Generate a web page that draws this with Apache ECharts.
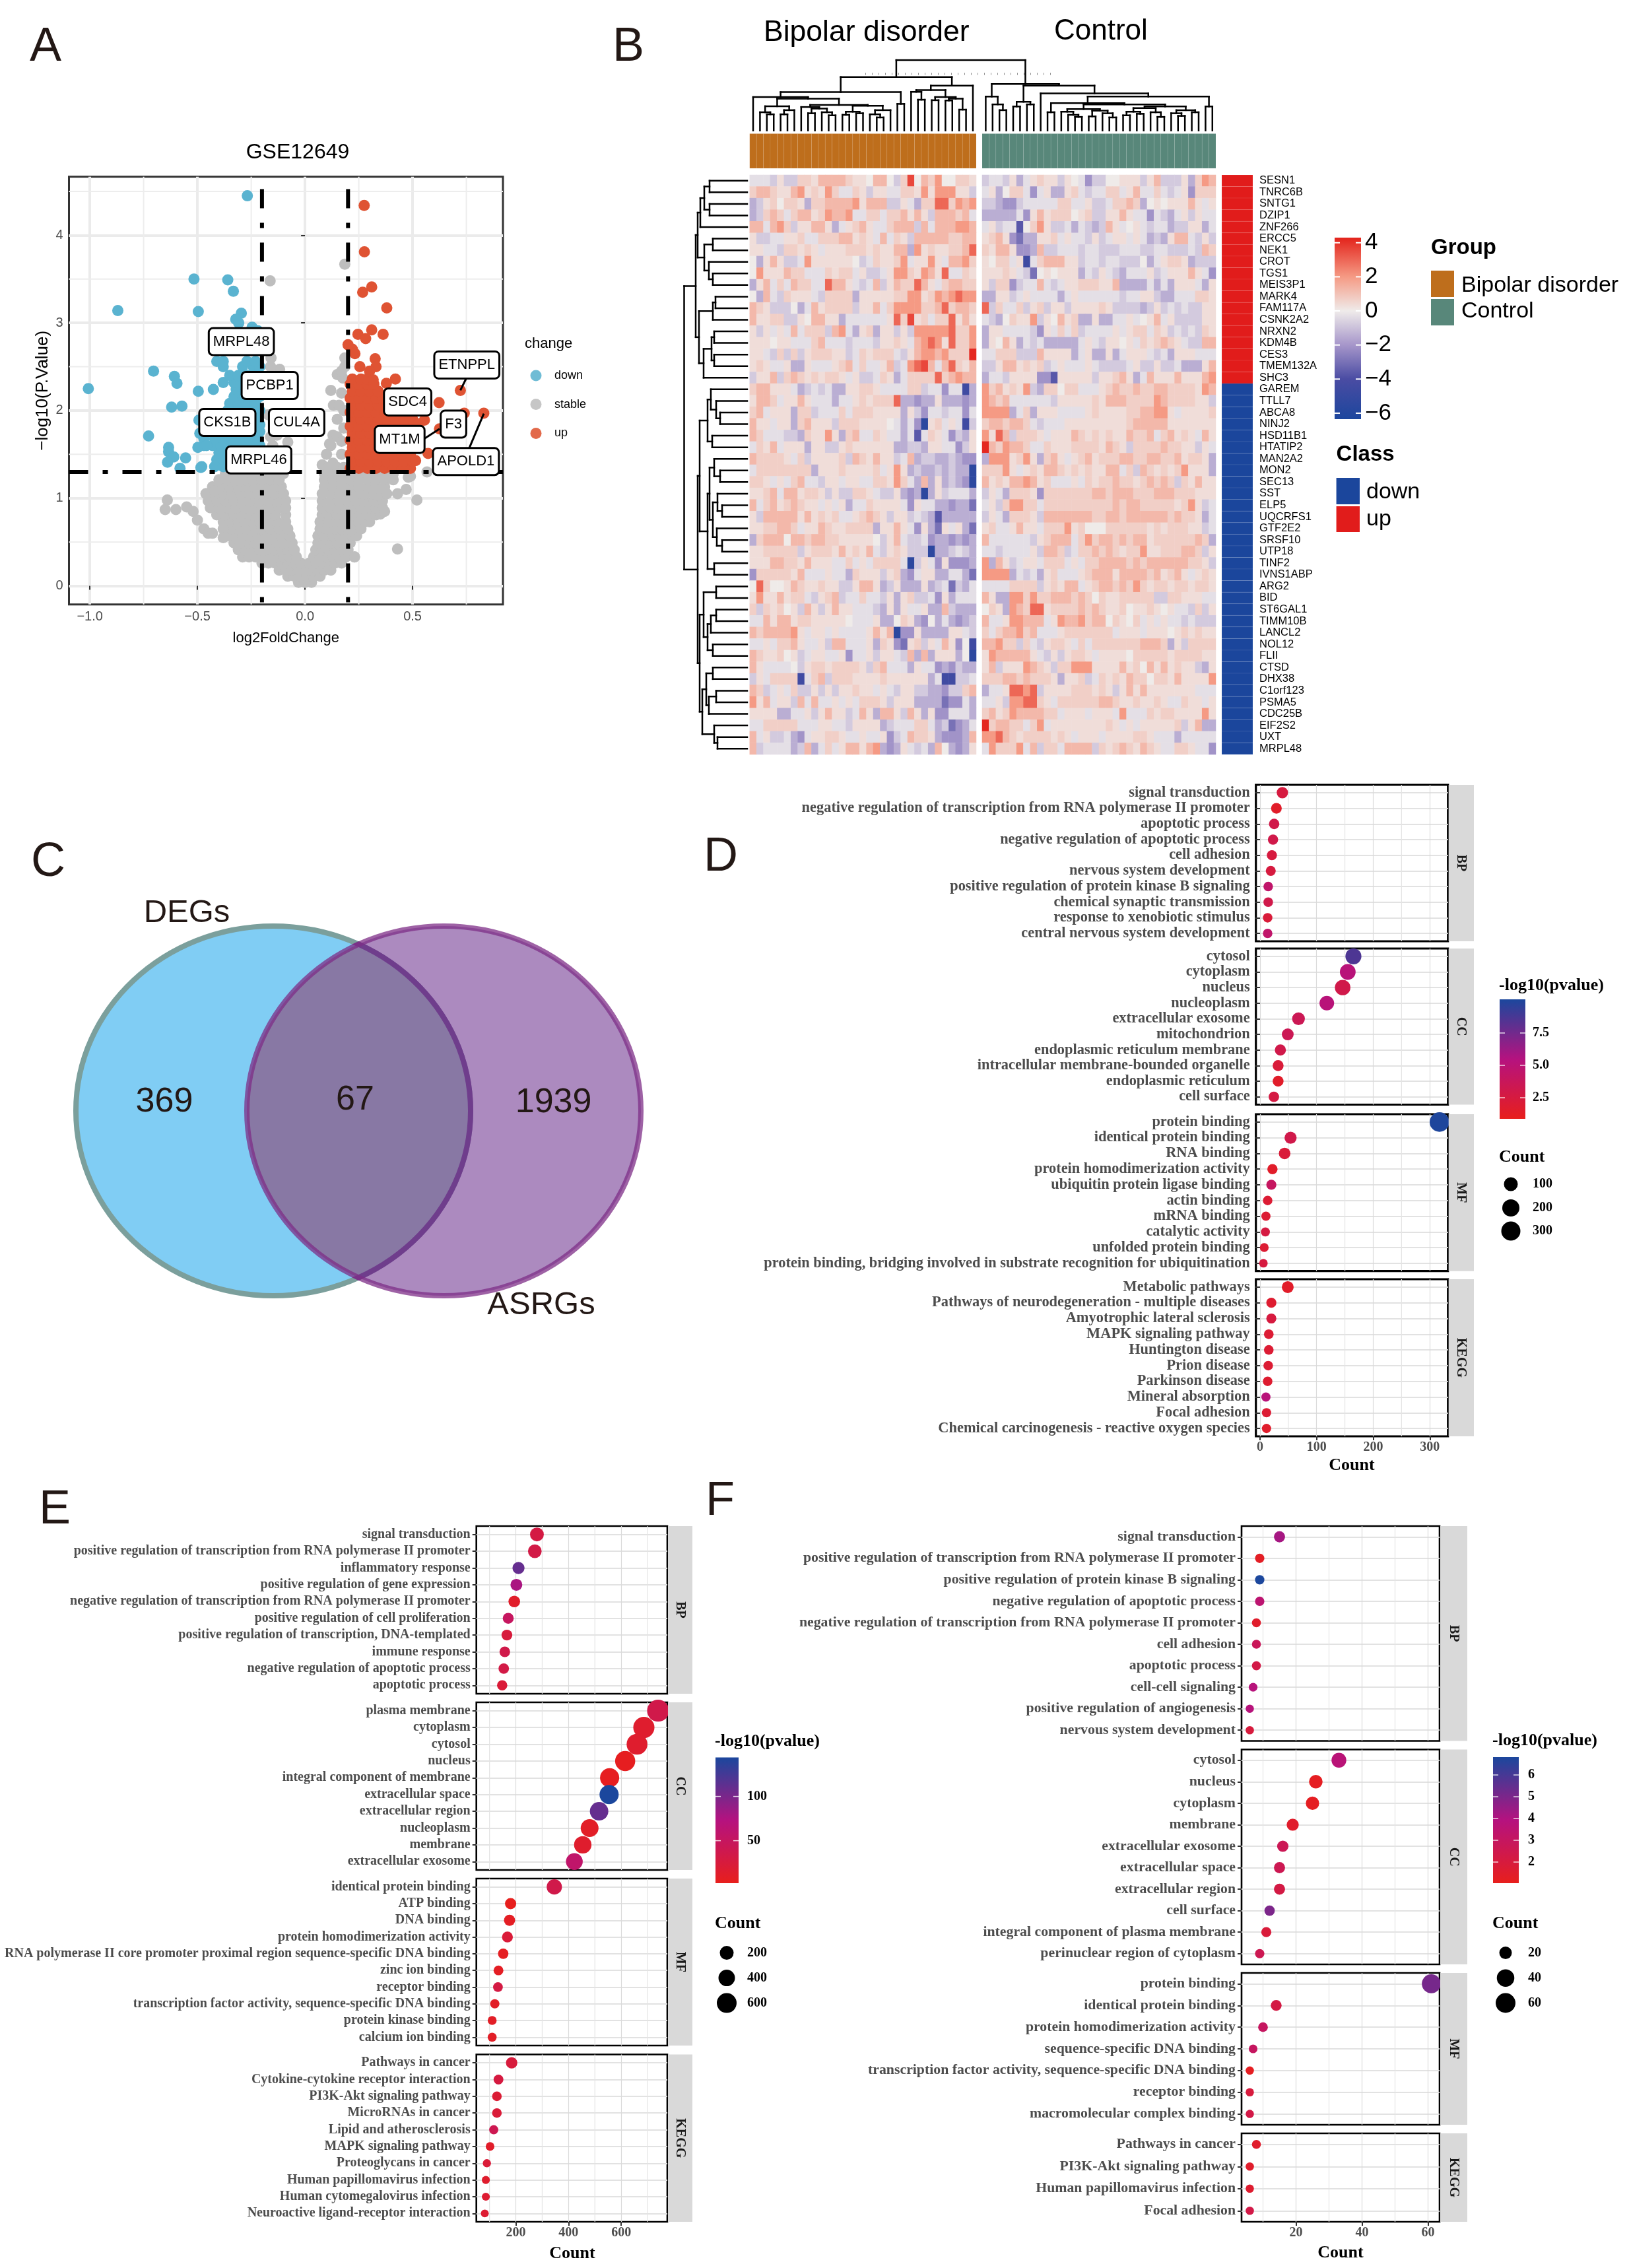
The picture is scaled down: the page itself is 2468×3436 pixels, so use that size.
<!DOCTYPE html>
<html><head><meta charset="utf-8">
<style>html,body{margin:0;padding:0;background:#fff}#c{width:2468px;height:3436px}</style>
<script src="https://cdn.jsdelivr.net/npm/echarts@6/dist/echarts.min.js"></script>
</head><body><div id="c"></div>
<script>
// ---------- DATA: volcano ----------
const volcanoTitle = 'GSE12649';
const greyRows = [
[.04,[-.03,0,.03]],[.11,[-.08,-.05,-.02,.01,.04,.07]],[.18,[-.12,-.09,-.06,-.03,0,.03,.06,.09,.12]],
[.26,[-.2,-.17,-.14,-.11,-.08,-.05,-.02,.02,.05,.08,.11,.14,.17]],
[.33,[-.29,-.26,-.23,-.19,-.16,-.13,-.1,-.07,-.04,.04,.07,.1,.13,.16,.19,.23]],
[.41,[-.31,-.28,-.24,-.21,-.18,-.14,-.11,-.08,-.05,.05,.08,.11,.14,.17,.2]],
[.49,[-.33,-.3,-.26,-.23,-.19,-.16,-.13,-.09,-.06,.06,.09,.12,.15,.18,.21]],
[.57,[-.36,-.32,-.29,-.25,-.22,-.18,-.15,-.11,-.07,.06,.09,.13,.16,.19,.22,.24]],
[.65,[-.37,-.34,-.3,-.27,-.23,-.2,-.16,-.12,-.08,.07,.1,.14,.17,.2,.23,.26]],
[.73,[-.38,-.35,-.31,-.28,-.24,-.21,-.17,-.13,-.09,.07,.11,.14,.18,.21,.25,.28,.3]],
[.81,[-.41,-.37,-.33,-.3,-.26,-.22,-.18,-.14,-.09,.08,.11,.15,.19,.22,.26,.29,.33]],
[.89,[-.44,-.4,-.36,-.32,-.28,-.24,-.2,-.16,-.12,-.09,.08,.12,.15,.19,.23,.26,.3,.33,.36]],
[.97,[-.45,-.41,-.37,-.33,-.29,-.25,-.21,-.17,-.13,-.09,.08,.12,.16,.2,.24,.28,.32,.36]],
[1.05,[-.46,-.42,-.38,-.34,-.3,-.26,-.22,-.18,-.14,-.1,.08,.12,.16,.2,.24,.28,.32,.36,.38]],
[1.13,[-.43,-.39,-.35,-.31,-.27,-.23,-.19,-.15,-.11,.09,.13,.17,.21,.25,.29,.33,.37]],
[1.21,[-.4,-.36,-.32,-.28,-.24,-.2,-.16,-.12,.09,.13,.17,.21,.25,.29,.33,.37,.41]],
[1.28,[-.37,-.33,-.29,-.25,-.21,-.17,-.13,-.1,.09,.13,.17,.21,.25,.29,.33,.37,.41]]];
const greyExtra = [[-.65,.87],[-.64,.98],[-.6,.87],[-.55,.9],[-.52,.85],[-.5,.75],[-.47,.65],[-.45,.6],[-.43,.6],[-.38,.65],[-.38,.55],[-.46,1.05],[-.42,1.08],
[.43,.42],[.52,.98],[.43,1.05],[.47,1.1],[.35,.82],[.37,.85],[.49,1.25],[.567,1.3],[.48,1.24],[.23,.33],
[.185,3.67],[-.162,3.48],[-.158,2.6],[-.118,2.47],[-.16,2.5],[.185,2.6],[.185,2.5],[.15,2.41],[.176,2.37],[.17,2.45],[.12,2.23],[.132,2.06],[.158,2.06],[.17,2.2],[.18,2],[.15,1.9],
[-.08,1.64],[-.1,1.5],[-.13,1.72],[-.15,1.6],[-.12,1.5],[-.19,1.4],[-.14,1.38],[-.17,1.95],[-.16,1.7],
[.114,1.62],[.13,1.72],[.15,1.7],[.17,1.65],[.12,1.6],[.1,1.5],[.13,1.4],[.17,1.5],[.08,1.38],[.11,1.35],[.15,1.35],[.18,1.35],[.18,1.8]];
const blueRows = [
[1.36,[-.48,-.42,-.38,-.35,-.31,-.27,-.23]],[1.44,[-.41,-.38,-.34,-.3,-.26,-.22]],[1.52,[-.4,-.36,-.33,-.29,-.25,-.21]],
[1.6,[-.47,-.43,-.39,-.35,-.31,-.27,-.23,-.21]],[1.68,[-.47,-.42,-.38,-.34,-.3,-.26,-.22]],[1.76,[-.44,-.4,-.36,-.32,-.28,-.24,-.21]],
[1.84,[-.36,-.32,-.28,-.24,-.21]],[1.92,[-.34,-.3,-.26,-.22]],[2,[-.36,-.33,-.29,-.25,-.21]],[2.08,[-.35,-.31,-.27,-.23]],
[2.16,[-.33,-.29,-.25,-.21]],[2.24,[-.32,-.28,-.24]],[2.32,[-.38,-.33,-.3,-.26,-.22]],[2.4,[-.35,-.31,-.27]],
[2.5,[-.38,-.29,-.24,-.21]],[2.56,[-.41,-.38,-.27,-.23]],[2.7,[-.4,-.31,-.25,-.21]],[2.85,[-.32,-.27,-.23]]];
const blueExtra = [[-.268,4.45],[-.516,3.5],[-.359,3.49],[-.333,3.36],[-.87,3.14],[-.496,3.13],[-.296,3.11],[-.322,3.04],[-.308,3],[-.246,2.95],[-.22,2.91],
[-.704,2.45],[-.607,2.39],[-.595,2.31],[-1.007,2.25],[-.426,2.24],[-.496,2.22],[-.62,2.04],[-.572,2.05],[-.727,1.71],[-.634,1.58],[-.634,1.53],[-.61,1.47],[-.639,1.41],[-.555,1.46],[-.581,1.34],[-.484,1.35],[-.493,1.89],[-.489,1.74],[-.498,1.58],[-.458,1.6]];
const redRows = [
[1.34,[.21,.25,.29,.33,.37,.41,.45,.49]],[1.42,[.22,.26,.3,.34,.38,.42,.46,.5]],[1.5,[.21,.25,.29,.33,.37,.41,.45,.49]],
[1.58,[.22,.26,.3,.34,.38,.42,.46,.49]],[1.66,[.21,.25,.29,.33,.37,.41,.45]],[1.74,[.22,.26,.3,.34,.38]],
[1.82,[.21,.25,.29,.33,.37,.41,.45,.49,.52]],[1.9,[.22,.26,.3,.34,.38,.42,.46,.5]],[1.98,[.21,.25,.29,.33,.37,.41,.45]],
[2.06,[.22,.26,.3,.34,.38]],[2.14,[.21,.25,.29,.33,.36]],[2.22,[.22,.26,.3,.34]],[2.3,[.21,.25,.29,.32]],[2.36,[.22,.26,.29]]];
const redExtra = [[.275,4.34],[.276,3.81],[.31,3.41],[.268,3.35],[.38,3.17],[.31,2.92],[.246,2.87],[.282,2.82],[.363,2.87],[.2,2.75],[.22,2.7],[.232,2.65],[.326,2.59],[.33,2.5],[.255,2.5],[.3,2.45],[.317,2.35],[.42,2.36],[.378,2.31],[.722,2.23],[.623,2.09],[.831,1.97],[.74,1.97],[.555,1.89],[.625,1.79],[.528,1.85],[.572,1.51],[.514,1.43]];
const geneBoxes = [['MRPL48',-.296,2.786],['PCBP1',-.164,2.286],['CKS1B',-.361,1.864],['CUL4A',-.039,1.864],['MRPL46',-.215,1.437],['ETNPPL',.752,2.52],['SDC4',.477,2.098],['F3',.69,1.845],['MT1M',.44,1.671],['APOLD1',.748,1.418]];
const geneLinks = [[.752,2.38,.722,2.23],[.555,1.68,.625,1.79],[.762,1.564,.831,1.965]];
const volcanoCuts = {x:[-.2,.2], y:[1.3]};
const volcanoLegend = ['down','stable','up'];

// ---------- DATA: heatmap ----------
const rowGenes = ['SESN1','TNRC6B','SNTG1','DZIP1','ZNF266','ERCC5','NEK1','CROT','TGS1','MEIS3P1','MARK4','FAM117A','CSNK2A2','NRXN2','KDM4B','CES3','TMEM132A','SHC3','GAREM','TTLL7','ABCA8','NINJ2','HSD11B1','HTATIP2','MAN2A2','MON2','SEC13','SST','ELP5','UQCRFS1','GTF2E2','SRSF10','UTP18','TINF2','IVNS1ABP','ARG2','BID','ST6GAL1','TIMM10B','LANCL2','NOL12','FLII','CTSD','DHX38','C1orf123','PSMA5','CDC25B','EIF2S2','UXT','MRPL48'];
const upCount = 18;
const heatCode = {'0':0,'1':.35,'2':.7,'3':1.25,'4':2,'5':3,'6':3.6,'7':4.2,a:-.28,b:-.78,c:-1.45,d:-2.1,e:-3,f:-3.7,g:-4.5,h:-5.5};
const heatRows = [
"aaab1bb22133332110330b26032400221 baab1ca1211b10adbb00111b13bbb1c243",
"2332113412142aa21b11aa2214144411b a1c022ada1cc12abaa22a13aa2aba1d222",
"cb120221c22333341333bb1ac22552434 bbcddbaaaaa22aa1bba2232c01011131a1",
"cb232a233124334aa22a223131b33323a cccccad131222012bb1131aadabca1b1aa",
"33a342b11331ca1231aa2333b3a333443 a1baaf0241bbacabcb31a01abaacbb11ca",
"1bbaa112aa22233121a3a21b333332233 1231decc112a1aab1ba11a1acbc133ab1b",
"11aab22121a111222121133c412112235 21331ddc3bbaaabaabbbaaabbaabbbab32",
"0c131bba41111110ba21124a1141a3342 1022a1ga233311baabaabbb0ca1221cbbb",
"04111322aaa2122a1bba144214315aa21 11121abe010111cab1abcaaa1ba11131ad",
"c13a2a322aa5331aba3b1322531a23322 1b22dbaa3aba11222113ccccacac111ac1",
"0c3ab2111ab2222c11111224412434544 cc11ba1aaaaca1aaaaaabaa11bccaaa221",
"321bbb0ca312222b113a2444422352332 5b2aa2b12b11b111121bbbbcb1bababb11",
"31122bb103311caaaaaa152612a225131 abc02114b10312cc1ccaa1a013a1bbbb11",
"1b1a1a3a222b34ac12c11b1b444445224 c11aaaabd1a2a2baaaa1a122a21babab21",
"111011aaa23aaabaaab1121a345415224 c1031cabaccccca1ab1101a212321abb33",
"11ab2b2b122211ba21222ab1344342227 aa222bbb31111ca1cc1ca111abac111aaa",
"121aa1cc1aaa123a2aa13ba4563a35213 bb1331212ba1aaa1abbbba1bb1bbaccc13",
"b113b232121221a1bba21ca2222523433 caab1111ddf11111b11231ca3111311134",
"233111acbabacc11221aaaa22baadaagc 4231214bc22022aaa12322322332222143",
"1332a1131aaacaa1212225ccdcc1cccdc 4323aaaaaab1111121333222243222211b",
"23a111c22baaa2a2221111c1bdaabaada 4444ca2c111aaaa1211112233441a11112",
"311a11c23111b22211110acadh12a1agb 2332332abaaa1111111112333331111111",
"32aaabbc21141c23aa21aacafa21adbc1 4153b2221a111321212113223a23121a31",
"a213a111c11bb12111111ccbbc11aadb1 7324332aa211122221321b222232211b1a",
"322221a2b11112b321311ba3cbbccbcdd c4441241c231a12312223322332231221c",
"a22222222c111211112a141cbccbcbcch 22241a12133212121133a2b3212124111c",
"221a1a23aab11a11aa22142ac3c1cbcdh 3121334312aaa1a2122322123232b21311",
"1123a331221b1bb221abb1cdchc1baaac b1ac2221d2222222332333222333222111",
"3a23123211a1a1caa21111ad1aaccdcce a1b24422a22222222223233222221241ba",
"1b33333131212aa12321b11babcfccccc b1ac2221b33333332233233333323221ca",
"1122332a1132112222c1131ad1ce1a1ce 12aa1311a22241200022222212122211ba",
"c233303323322111110b13abbadccdcdc 3aaaaaab12333a2423323233122222232c",
"1122222b1222131213ab121bbbhccbabc aabaaaa1b332ba223232122411222332b1",
"111332213111aa2a1a2222ahb1ad1dddc 4c31ba11a222a1a223333232333333221b",
"d2222213aaa1aac2111b12cda11ccaace 4444cabac12aaa1233313333231231a121",
"0520013211211bb1331cb1ccc1cbaebca aaaa2222b12133a1233232421221221221",
"14113122ab123baa2aab1c12bbad1caaa 31cc442422333232021122222bb22111aa",
"2b21201b31b1311aaabc1c1aa1cc3bccc 021c432551222232321120112101aab2b1",
"aa3133122111110aaa1cc021cd0cacdcb 3aa144333a1433423302102a1a1aababbb",
"32333341a11a1aaaa1313hdd1cccc11ab 2a233423aaa12222222a111a1110121211",
"aa1a2231aa1b33aaa1c21de12b1a31d0g 33422b2ab1221a2a22222223332c1b2222",
"3211201ba11aa1daa1b11ab3c3c111c0h 14333331ab1b1221a11110222221222211",
"31aaaa0b122122221b23aaac1aadcdbcc 13b1114321b22444111131203131211bc1",
"b1a2222ga23b22211112111111caggbba 22233232221c112ba21213220221311114",
"32ba1a2bb1b1b11211a1ab11bbccdbb23 caa15545b1111222121b13131111111aaa",
"413a11b3a3aa1a1a2221b111cccceddac aa1b445521a2222223321121121aa211a1",
"1111ccaa1b1311ba31c331b31c1ddaaac 23124333322a111a111a4aaa2122111141",
"aa22222aaa11aab1111cbaaa22acbedca 723322a24a1111111121a1a111112b13cc",
"3a1bbacda11221aa1aa1dba3221cdddc3 4453212222121a111a1111221aaacaaaaa",
"3baaaacb3ca2a133134cdc1abac30cdc1 a42224a3b22a3333b212321321aa221aad"
];
const colGroups = ['Bipolar disorder','Control'];
const colCounts = [33,34];
// dendrograms: node = [height, left, right], leaf = 0
const colTreeLeft = [205,
 [147,[128,0,[122,[93,[70,0,[62,0,0]],[78,[62,0,0],0]],[98,[90,0,[84,[66,0,0],[70,0,[58,0,0]]]],[95,[72,[60,0,0],[66,0,0]],[78,[62,0,[50,0,0]],0]]]]],[102,0,0]],
 [172,[155,[148,0,[118,0,0]],[128,[116,0,0],[122,[115,0,0],[80,0,0]]]],0]];
const colTreeRight = [178,[130,0,[100,0,[78,0,0]]],
 [172,[110,[92,0,0],[100,0,0]],[142,0,[130,[105,[70,0,0],[100,[82,[72,0,[60,0,[52,0,0]]],[76,[54,0,0],[66,0,[50,0,0]]]],[92,[86,[72,[58,0,0],[64,0,0]],[70,0,[52,0,0]]],[78,[66,0,[56,0,0]],[70,0,0]]]]],[92,0,0]]]]];
const colTree = [270,colTreeLeft,colTreeRight];
const rowTree = [95.5,
 [78,[75,[71,[65,[57,0,0],[57,0,0]],0],[65,[52,0,0],[58,0,[52,0,0]]]],[73,[52,[48,0,0],0],[66,[54,[50,0,0],[50,0,0]],0]]],
 [75,[72,[60,[55,0,[47,0,[41,0,0]]],[53,0,0]],[60,[57,[50,0,[41,0,0]],[52,[45,0,[38,0,0]],[46,0,[38,0,0]]]],[50,0,0]]],
  [72,[66,[47,0,0],[60,[55,[47,0,0],0],[52,0,0]]],[68,[62,[52,0,0],[58,[47,0,0],0]],[50,0,[45,0,0]]]]]];
const heatTicks = [4,2,0,-2,-4,-6];

// ---------- DATA: venn ----------
const vennNames = ['DEGs','ASRGs'];
const vennCounts = [369,67,1939];
const vennEllipses = [[414,423,299,280],[672.5,423,298.5,280]];

// ---------- DATA: GO panels ----------
const dBP = ['signal transduction','negative regulation of transcription from RNA polymerase II promoter','apoptotic process','negative regulation of apoptotic process','cell adhesion','nervous system development','positive regulation of protein kinase B signaling','chemical synaptic transmission','response to xenobiotic stimulus','central nervous system development'];
const dBPc = [39.5,29,25,23,21,19,14.5,14.5,13.5,13.5], dBPp = [2.5,1.5,3,3,2.5,2.5,4.5,3,2.2,4.5];
const dCC = ['cytosol','cytoplasm','nucleus','nucleoplasm','extracellular exosome','mitochondrion','endoplasmic reticulum membrane','intracellular membrane-bounded organelle','endoplasmic reticulum','cell surface'];
const dCCc = [165,155,146,118,68,49,36,32,32,24.5], dCCp = [8.6,5.2,3,5.2,3.5,3.5,3,2.2,1.5,2.7];
const dMF = ['protein binding','identical protein binding','RNA binding','protein homodimerization activity','ubiquitin protein ligase binding','actin binding','mRNA binding','catalytic activity','unfolded protein binding','protein binding, bridging involved in substrate recognition for ubiquitination'];
const dMFc = [317,54,43.5,22,20,13.5,10.5,9.5,7.5,6], dMFp = [10,3,2.2,1.5,4,2,2,2.6,2,2.5];
const dKE = ['Metabolic pathways','Pathways of neurodegeneration - multiple diseases','Amyotrophic lateral sclerosis','MAPK signaling pathway','Huntington disease','Prion disease','Parkinson disease','Mineral absorption','Focal adhesion','Chemical carcinogenesis - reactive oxygen species'];
const dKEc = [49,20,20,15.5,15.5,14.5,13.5,10.5,11.5,11.5], dKEp = [1.5,1.8,2.5,2,2,2,1.8,5.2,2,1.6];

const eBP = ['signal transduction','positive regulation of transcription from RNA polymerase II promoter','inflammatory response','positive regulation of gene expression','negative regulation of transcription from RNA polymerase II promoter','positive regulation of cell proliferation','positive regulation of transcription, DNA-templated','immune response','negative regulation of apoptotic process','apoptotic process'];
const eBPc = [280,272,210,202,194,171,166,158,154,148], eBPp = [30,32,110,78,12,50,25,35,32,22];
const eCC = ['plasma membrane','cytoplasm','cytosol','nucleus','integral component of membrane','extracellular space','extracellular region','nucleoplasm','membrane','extracellular exosome'];
const eCCc = [740,686,660,615,556,554,516,480,454,422], eCCp = [35,15,15,5,5,144,110,10,14,58];
const eMF = ['identical protein binding','ATP binding','DNA binding','protein homodimerization activity','RNA polymerase II core promoter proximal region sequence-specific DNA binding','zinc ion binding','receptor binding','transcription factor activity, sequence-specific DNA binding','protein kinase binding','calcium ion binding'];
const eMFc = [346,180,176,168,152,134,132,120,110,110], eMFp = [35,3,8,22,6,8,30,10,10,10];
const eKE = ['Pathways in cancer','Cytokine-cytokine receptor interaction','PI3K-Akt signaling pathway','MicroRNAs in cancer','Lipid and atherosclerosis','MAPK signaling pathway','Proteoglycans in cancer','Human papillomavirus infection','Human cytomegalovirus infection','Neuroactive ligand-receptor interaction'];
const eKEc = [184,134,128,128,116,102,90,86,86,82], eKEp = [25,28,20,22,40,12,22,14,18,18];

const fBP = ['signal transduction','positive regulation of transcription from RNA polymerase II promoter','positive regulation of protein kinase B signaling','negative regulation of apoptotic process','negative regulation of transcription from RNA polymerase II promoter','cell adhesion','apoptotic process','cell-cell signaling','positive regulation of angiogenesis','nervous system development'];
const fBPc = [15,9,9,9,8,8,8,7,6,6], fBPp = [4.2,1.3,6.8,3.5,1.5,2.8,2.3,3.8,3.8,2];
const fCC = ['cytosol','nucleus','cytoplasm','membrane','extracellular exosome','extracellular space','extracellular region','cell surface','integral component of plasma membrane','perinuclear region of cytoplasm'];
const fCCc = [33,26,25,19,16,15,15,12,11,9], fCCp = [3.7,1.2,1.2,1.5,2.7,2.6,2.2,5,1.9,2.6];
const fMF = ['protein binding','identical protein binding','protein homodimerization activity','sequence-specific DNA binding','transcription factor activity, sequence-specific DNA binding','receptor binding','macromolecular complex binding'];
const fMFc = [61,14,10,7,6,6,6], fMFp = [5.1,2.2,3,3,1.2,2,2.3];
const fKE = ['Pathways in cancer','PI3K-Akt signaling pathway','Human papillomavirus infection','Focal adhesion'];
const fKEc = [8,6,6,6], fKEp = [1.5,1.5,1.6,2.3];

// ---------- helpers ----------
const SANS='"Liberation Sans"', SERIF='"Liberation Serif"';
const grid=[],xAxis=[],yAxis=[],series=[],gfx=[];
const hex=c=>[1,3,5].map(i=>parseInt(c.substr(i,2),16));
function ramp(stops,v){
  if(v<=stops[0][0])return stops[0][1];
  for(let i=1;i<stops.length;i++) if(v<=stops[i][0]){
    const t=(v-stops[i-1][0])/(stops[i][0]-stops[i-1][0]),a=hex(stops[i-1][1]),b=hex(stops[i][1]);
    return 'rgb('+a.map((x,k)=>Math.round(x+(b[k]-x)*t)).join(',')+')';
  }
  return stops[stops.length-1][1];
}
function addGrid(l,t,r,b,extra){grid.push(Object.assign({left:l,top:t,width:r-l,height:b-t,containLabel:false,show:false},extra||{}));return grid.length-1;}
const hiddenAxis=(gi,o)=>Object.assign({gridIndex:gi,show:false,axisLine:{show:false},axisTick:{show:false},axisLabel:{show:false},splitLine:{show:false}},o);
function T(x,y,text,font,fill,align,rot){gfx.push({type:'text',x,y,rotation:rot||0,silent:true,z:50,style:{text:String(text),font,fill:fill||'#000',textAlign:align||'left',textVerticalAlign:'middle'}});}
function R(x,y,w,h,fill,z){gfx.push({type:'rect',shape:{x,y,width:w,height:h},silent:true,z:z||40,style:{fill}});}
function segSeries(gi,segs,style,z){
  series.push({type:'custom',coordinateSystem:'cartesian2d',xAxisIndex:gi,yAxisIndex:gi,z:z||2,silent:true,clip:false,animation:false,
    encode:{x:[0,2],y:[1,3]},data:segs,renderItem:(p,api)=>{
      const a=api.coord([api.value(0),api.value(1)]),b=api.coord([api.value(2),api.value(3)]);
      return {type:'line',shape:{x1:a[0],y1:a[1],x2:b[0],y2:b[1]},style:style};
    }});
}
function walk(node,state,segs,leaf,flip){
  if(!node){return {p:leaf(state.i++),h:0};}
  const a=walk(node[1],state,segs,leaf,flip),b=walk(node[2],state,segs,leaf,flip),h=node[0];
  const add=flip?(p1,h1,p2,h2)=>segs.push([h1,p1,h2,p2]):(p1,h1,p2,h2)=>segs.push([p1,h1,p2,h2]);
  add(a.p,a.h,a.p,h);add(b.p,b.h,b.p,h);add(a.p,h,b.p,h);
  return {p:(a.p+b.p)/2,h};
}
function cellSeries(gi,data,colors,stroke){
  series.push({type:'custom',coordinateSystem:'cartesian2d',xAxisIndex:gi,yAxisIndex:gi,silent:true,animation:false,encode:{x:0,y:1},data,
    renderItem:(p,api)=>{const c=api.coord([api.value(0),api.value(1)]),s=api.size([1,1]);
      return {type:'rect',shape:{x:c[0]-s[0]/2,y:c[1]-s[1]/2,width:s[0],height:s[1]},style:{fill:colors[api.value(2)],stroke,lineWidth:1}};}});
}

// ---------- panel letters ----------
[['A',45,72],['B',928,72],['C',47,1307],['D',1066,1299],['E',59,2288],['F',1069,2275]].forEach(a=>T(a[1],a[2],a[0],'72px '+SANS,'#231815'));

// ---------- A: volcano ----------
(function(){
  const xmin=-1.097,xmax=.92,ymin=-.212,ymax=4.667;
  const gi=addGrid(104.5,267.8,762,915.7,{show:true,borderColor:'#333',borderWidth:3});
  const fontTick={color:'#4D4D4D',fontFamily:'Liberation Sans',fontSize:20};
  const tick={show:true,length:6,lineStyle:{color:'#333',width:2}};
  const split={show:true,lineStyle:{color:'#EBEBEB',width:4}};
  xAxis.push({type:'value',gridIndex:gi,min:xmin,max:xmax,name:'log2FoldChange',nameLocation:'middle',nameGap:40,nameTextStyle:{color:'#000',fontSize:22,fontFamily:'Liberation Sans'},
    axisLine:{show:false},axisTick:Object.assign({customValues:[-1,-.5,0,.5]},tick),axisLabel:Object.assign({customValues:[-1,-.5,0,.5],margin:9,formatter:v=>v.toFixed(1).replace('-','−')},fontTick),splitLine:split});
  yAxis.push({type:'value',gridIndex:gi,min:ymin,max:ymax,name:'−log10(P.Value)',nameLocation:'middle',nameGap:27,nameTextStyle:{color:'#000',fontSize:26,fontFamily:'Liberation Sans'},
    axisLine:{show:false},axisTick:Object.assign({customValues:[0,1,2,3,4]},tick),axisLabel:Object.assign({customValues:[0,1,2,3,4],margin:9},fontTick),splitLine:split});
  const minor={stroke:'#EDEDED',lineWidth:2};
  segSeries(gi,[-.75,-.25,.25,.75].map(v=>[v,ymin,v,ymax]).concat([.5,1.5,2.5,3.5,4.5].map(v=>[xmin,v,xmax,v])),minor,1);
  const pts=(rows,extra)=>rows.flatMap(r=>r[1].map(x=>[x,r[0]])).concat(extra);
  [[pts(greyRows,greyExtra),'#BEBEBE'],[pts(blueRows,blueExtra),'#5AB3D0'],[pts(redRows,redExtra),'#DF5333']].forEach(s=>{
    series.push({type:'scatter',xAxisIndex:gi,yAxisIndex:gi,data:s[0],symbolSize:17,z:3,silent:true,itemStyle:{color:s[1],opacity:1},animation:false});
  });
  const dash={type:[29,22,8,22],width:6,color:'#000'};
  volcanoCuts.x.forEach(v=>series.push({type:'line',xAxisIndex:gi,yAxisIndex:gi,z:4,showSymbol:false,silent:true,animation:false,data:[[v,ymax-.14],[v,ymin]],lineStyle:dash}));
  volcanoCuts.y.forEach(v=>series.push({type:'line',xAxisIndex:gi,yAxisIndex:gi,z:4,showSymbol:false,silent:true,animation:false,data:[[xmin,v],[xmax,v]],lineStyle:dash}));
  segSeries(gi,geneLinks,{stroke:'#000',lineWidth:3},5);
  series.push({type:'scatter',xAxisIndex:gi,yAxisIndex:gi,z:6,symbolSize:1,silent:true,animation:false,itemStyle:{color:'transparent',opacity:1},
    data:geneBoxes.map(g=>({name:g[0],value:[g[1],g[2]]})),
    label:{show:true,position:'inside',opacity:1,formatter:'{b}',color:'#000',fontSize:22,fontFamily:'Liberation Sans',backgroundColor:'#fff',borderColor:'#000',borderWidth:3,borderRadius:5,padding:[8,5]}});
  T(451,231,volcanoTitle,'32px '+SANS,'#000','center');
  T(795,521,'change','22px '+SANS);
  [['#6FBCD5',569],['#C6C6C6',612.6],['#E2694A',656.5]].forEach((k,i)=>{
    gfx.push({type:'circle',shape:{cx:812,cy:k[1],r:8.5},silent:true,z:40,style:{fill:k[0]}});
    T(840,k[1],volcanoLegend[i],'18px '+SANS);
  });
})();

// ---------- B: heatmap ----------
(function(){
  const top=265,bot=1143,l1=1135.8,r1=1479,l2=1488,r2=1842;
  const vmin=-6.35,vmax=4.3;
  const stops=[[-6.35,'#1C469D'],[-4,'#4A4CA3'],[-2,'#A696CA'],[0,'#EFEBEA'],[2,'#F59A84'],[4.3,'#E3231B']];
  const vmColors=[];for(let i=0;i<=42;i++)vmColors.push(ramp(stops,vmin+(vmax-vmin)*i/42));
  const parsed=heatRows.map(r=>{const s=r.replace(/ /g,'');return [s.slice(0,colCounts[0]),s.slice(colCounts[0])];});
  const heatIdx=[];
  [[l1,r1,0,colCounts[0]],[l2,r2,1,colCounts[1]]].forEach(g=>{
    const gi=addGrid(g[0],top,g[1],bot);
    const cats=Array.from({length:g[3]},(_,i)=>i);
    xAxis.push(hiddenAxis(gi,{type:'category',data:cats}));
    yAxis.push(hiddenAxis(gi,{type:'category',data:rowGenes,inverse:true}));
    const data=[];
    parsed.forEach((row,ri)=>{for(let c=0;c<g[3];c++){const ch=row[g[2]][c];data.push([c,ri,ch===undefined?0:heatCode[ch]]);}});
    heatIdx.push(series.length);
    series.push({type:'heatmap',xAxisIndex:gi,yAxisIndex:gi,data,silent:true,animation:false,progressive:0});
    // annotation bar
    const ga=addGrid(g[0],202.5,g[1],255);
    xAxis.push(hiddenAxis(ga,{type:'category',data:cats}));
    yAxis.push(hiddenAxis(ga,{type:'category',data:[colGroups[g[2]]]}));
    cellSeries(ga,cats.map(c=>[c,0,0]),[['#BE6E1C'],['#58877A']][g[2]],'rgba(255,255,255,.07)');
  });
  window.__vm={show:false,type:'continuous',min:vmin,max:vmax,seriesIndex:heatIdx,dimension:2,inRange:{color:vmColors},calculable:false};
  // class bar with row labels
  const gc=addGrid(1851,top,1898,bot);
  xAxis.push(hiddenAxis(gc,{type:'category',data:['Class']}));
  yAxis.push({type:'category',gridIndex:gc,data:rowGenes,inverse:true,position:'right',axisLine:{show:false},axisTick:{show:false},splitLine:{show:false},
    axisLabel:{show:true,interval:0,margin:10,color:'#000',fontSize:16.5,fontFamily:'Liberation Sans'}});
  cellSeries(gc,rowGenes.map((g,i)=>[0,i,i<upCount?0:1]),['#E11C1B','#1B469C'],'rgba(255,255,255,.08)');
  // column dendrogram
  const gap=.865,total=colCounts[0]+colCounts[1]+gap;
  const gd=addGrid(l1,91,r2,197.7);
  xAxis.push(hiddenAxis(gd,{type:'value',min:0,max:total}));
  yAxis.push(hiddenAxis(gd,{type:'value',min:0,max:270}));
  const cs=[];walk(colTree,{i:0},cs,i=>i<colCounts[0]?i+.5:i+.5+gap,false);
  segSeries(gd,cs,{stroke:'#000',lineWidth:2.5,lineCap:'square'},2);
  // row dendrogram
  const gr=addGrid(1036.5,top,1132,bot);
  xAxis.push(hiddenAxis(gr,{type:'value',min:0,max:95.5,inverse:true}));
  yAxis.push(hiddenAxis(gr,{type:'value',min:0,max:rowGenes.length,inverse:true}));
  const rs=[];walk(rowTree,{i:0},rs,i=>i+.5,true);
  segSeries(gr,rs,{stroke:'#000',lineWidth:2.5,lineCap:'square'},2);
  gfx.push({type:'line',shape:{x1:1311,y1:112,x2:1599,y2:112},silent:true,z:40,style:{stroke:'#8a8a8a',lineWidth:3,lineDash:[1,9]}});
  // titles
  T(1157,50,'Bipolar disorder','44.5px '+SANS);
  T(1597,48,'Control','44px '+SANS);
  // colourbar
  const cbX=2022,cbW=40,cbT=360,cbB=635;
  const cbStops=stops.map(s=>({offset:(vmax-s[0])/(vmax-vmin),color:s[1]})).reverse();
  gfx.push({type:'rect',shape:{x:cbX,y:cbT,width:cbW,height:cbB-cbT},silent:true,z:40,style:{fill:new echarts.graphic.LinearGradient(0,0,0,1,cbStops)}});
  heatTicks.forEach(v=>{
    const y=cbT+(vmax-v)/(vmax-vmin)*(cbB-cbT);
    [[cbX,cbX+8],[cbX+cbW-8,cbX+cbW]].forEach(s=>gfx.push({type:'line',shape:{x1:s[0],y1:y,x2:s[1],y2:y},silent:true,z:41,style:{stroke:'#fff',lineWidth:2}}));
    T(cbX+cbW+6,y,String(v).replace('-','−'),'35px '+SANS);
  });
  // legends
  T(2168,376,'Group','bold 33px '+SANS);
  R(2168,410,35,40,'#BE6E1C');R(2168,453,35,40,'#58877A');
  T(2214,433,colGroups[0],'34px '+SANS);T(2214,472,colGroups[1],'34px '+SANS);
  T(2024.6,689,'Class','bold 33px '+SANS);
  R(2024.6,724,35.4,40,'#1B469C');R(2024.6,767,35.4,39,'#E11C1B');
  T(2070,746,'down','34px '+SANS);T(2070,787,'up','34px '+SANS);
})();

// ---------- C: venn ----------
(function(){
  const gi=addGrid(0,1260,1050,2020);
  xAxis.push(hiddenAxis(gi,{type:'value',min:0,max:1050}));
  yAxis.push(hiddenAxis(gi,{type:'value',min:0,max:760,inverse:true}));
  const noFill='rgba(0,0,0,0)';
  series.push({type:'custom',coordinateSystem:'cartesian2d',xAxisIndex:gi,yAxisIndex:gi,silent:true,animation:false,clip:false,encode:{x:0,y:1},
    data:[[0,0]],renderItem:(p,api)=>{
      const toShape=(e,shrink)=>{const c=api.coord([e[0],e[1]]),s=api.size([e[2],e[3]]);return {cx:c[0],cy:c[1],rx:s[0]-(shrink||0),ry:s[1]-(shrink||0)};};
      const A=vennEllipses[0],B=vennEllipses[1];
      return {type:'group',children:[
        {type:'ellipse',shape:toShape(A),style:{fill:'#80CDF4',stroke:'#7B9F9C',lineWidth:8}},
        {type:'ellipse',shape:toShape(B),style:{fill:'rgba(133,83,161,.68)',stroke:noFill,lineWidth:0}},
        {type:'ellipse',shape:toShape(B),style:{fill:'#8878A4',stroke:noFill,lineWidth:0},clipPath:{type:'ellipse',shape:toShape(A)}},
        {type:'ellipse',shape:toShape(A),style:{fill:noFill,stroke:'#6F3D8C',lineWidth:8},clipPath:{type:'ellipse',shape:toShape(B,-4)}},
        {type:'ellipse',shape:toShape(B),style:{fill:noFill,stroke:'rgba(125,45,135,.75)',lineWidth:8}}
      ]};
    }});
  T(249,1670,vennCounts[0],'52px '+SANS,'#231815','center');
  T(538,1667,vennCounts[1],'52px '+SANS,'#231815','center');
  T(838.6,1671,vennCounts[2],'52px '+SANS,'#231815','center');
  T(283,1383.6,vennNames[0],'49px '+SANS,'#231815','center');
  T(820,1977,vennNames[1],'49px '+SANS,'#231815','center');
})();

// ---------- GO panels ----------
const goStops=[[0,'#E81F1C'],[.5,'#B5127F'],[1,'#1B479D']];
function goPanel(cfg){
  const n=cfg.facets.length;
  const color=v=>ramp(goStops,(v-cfg.vmin)/(cfg.vmax-cfg.vmin));
  cfg.facets.forEach((f,i)=>{
    const last=i===n-1;
    const gi=addGrid(cfg.left,f.top,cfg.right,f.bottom,{show:true,borderColor:'#000',borderWidth:cfg.frame});
    xAxis.push({type:'value',gridIndex:gi,min:cfg.xmin,max:cfg.xmax,axisLine:{show:false},
      axisTick:{show:last,customValues:cfg.major,length:6,lineStyle:{color:'#333',width:2}},
      axisLabel:{show:last,customValues:cfg.major,margin:7,color:'#4D4D4D',fontFamily:'Liberation Serif',fontWeight:'bold',fontSize:20},
      splitLine:{show:true,lineStyle:{color:'#DADADA',width:1.2}}});
    yAxis.push({type:'category',gridIndex:gi,data:f.names,inverse:true,axisLine:{show:false},
      axisTick:{show:true,alignWithLabel:true,length:6,lineStyle:{color:'#333',width:2}},
      axisLabel:{show:true,interval:0,margin:9,color:'#4D4D4D',fontFamily:'Liberation Serif',fontWeight:'bold',fontSize:cfg.font},
      splitLine:{show:true,alignWithLabel:true,lineStyle:{color:'#E2E2E2',width:2}}});
    series.push({type:'custom',coordinateSystem:'cartesian2d',xAxisIndex:gi,yAxisIndex:gi,z:1,silent:true,animation:false,encode:{x:0,y:1},
      data:cfg.minor.map(v=>[v,0]),renderItem:(p,api)=>{const x=api.coord([api.value(0),0])[0],c=p.coordSys;
        return {type:'line',shape:{x1:x,y1:c.y,x2:x,y2:c.y+c.height},style:{stroke:'#E4E4E4',lineWidth:1.2}};}});
    series.push({type:'scatter',xAxisIndex:gi,yAxisIndex:gi,z:3,silent:true,animation:false,
      data:f.counts.map((c,k)=>[c,k,f.p[k]]),symbolSize:v=>cfg.sizeA+cfg.sizeB*Math.sqrt(v[0]),itemStyle:{opacity:1,color:p=>color(p.value[2])}});
    R(cfg.right+1,f.top,cfg.stripR-cfg.right-1,f.bottom-f.top,'#D9D9D9');
    T((cfg.right+cfg.stripR)/2,(f.top+f.bottom)/2,f.strip,'bold 20px '+SERIF,'#1A1A1A','center',-Math.PI/2);
  });
  T(cfg.countX,cfg.countY,'Count','bold 26px '+SERIF,'#000','center');
  // colour legend
  const L=cfg.legend;
  T(L.x,L.titleY,'-log10(pvalue)','bold 26px '+SERIF);
  gfx.push({type:'rect',shape:{x:L.x+1,y:L.top,width:L.w,height:L.bottom-L.top},silent:true,z:40,style:{fill:new echarts.graphic.LinearGradient(0,1,0,0,goStops.map(s=>({offset:s[0],color:s[1]})))}});
  L.ticks.forEach(t=>{
    const y=L.top+(cfg.vmax-t)/(cfg.vmax-cfg.vmin)*(L.bottom-L.top);
    [[L.x+1,L.x+9],[L.x+L.w-7,L.x+L.w+1]].forEach(s=>gfx.push({type:'line',shape:{x1:s[0],y1:y,x2:s[1],y2:y},silent:true,z:41,style:{stroke:'rgba(255,255,255,.8)',lineWidth:1.5}}));
    T(L.labelX,y,L.fmt?L.fmt(t):t,'bold 20px '+SERIF,'#000');
  });
  T(L.x,L.countTitleY,'Count','bold 26px '+SERIF);
  L.sizes.forEach(s=>{
    gfx.push({type:'circle',shape:{cx:L.cx,cy:s[1],r:s[2]/2},silent:true,z:40,style:{fill:'#000'}});
    T(L.labelX,s[1],s[0],'bold 20px '+SERIF,'#000');
  });
}
goPanel({left:1902.7,right:2193.7,stripR:2233,xmin:-7.3,xmax:332,major:[0,100,200,300],minor:[50,150,250],font:22.4,frame:3.2,vmin:.87,vmax:10.1,sizeA:10.4,sizeB:1.08,countX:2048,countY:2220,
  facets:[{top:1189,bottom:1426,names:dBP,counts:dBPc,p:dBPp,strip:'BP'},{top:1437,bottom:1673.5,names:dCC,counts:dCCc,p:dCCp,strip:'CC'},{top:1688,bottom:1925.7,names:dMF,counts:dMFc,p:dMFp,strip:'MF'},{top:1938,bottom:2176,names:dKE,counts:dKEc,p:dKEp,strip:'KEGG'}],
  legend:{x:2271,titleY:1493,top:1514,bottom:1695,w:39,ticks:[7.5,5,2.5],fmt:v=>v.toFixed(1),labelX:2322,countTitleY:1753,cx:2289,sizes:[[100,1794,21],[200,1830,26],[300,1865,29]]}});
goPanel({left:721.7,right:1011,stripR:1049,xmin:50,xmax:775,major:[200,400,600],minor:[100,300,500,700],font:20,frame:2.6,vmin:2,vmax:144,sizeA:1.2,sizeB:1.18,countX:867,countY:3414,
  facets:[{top:2312,bottom:2566,names:eBP,counts:eBPc,p:eBPp,strip:'BP'},{top:2579,bottom:2833,names:eCC,counts:eCCc,p:eCCp,strip:'CC'},{top:2846,bottom:3099,names:eMF,counts:eMFc,p:eMFp,strip:'MF'},{top:3112.5,bottom:3366,names:eKE,counts:eKEc,p:eKEp,strip:'KEGG'}],
  legend:{x:1083,titleY:2638,top:2662.6,bottom:2853,w:35,ticks:[100,50],labelX:1132,countTitleY:2914,cx:1101,sizes:[[200,2958.6,21],[400,2996.6,25],[600,3034.6,30]]}});
goPanel({left:1881,right:2181,stripR:2223,xmin:3.5,xmax:63.5,major:[20,40,60],minor:[10,30,50],font:21.8,frame:2.6,vmin:1.03,vmax:6.82,sizeA:5.2,sizeB:3,countX:2031,countY:3413,
  facets:[{top:2312,bottom:2637.5,names:fBP,counts:fBPc,p:fBPp,strip:'BP'},{top:2650.5,bottom:2976,names:fCC,counts:fCCc,p:fCCp,strip:'CC'},{top:2989,bottom:3219,names:fMF,counts:fMFc,p:fMFp,strip:'MF'},{top:3232,bottom:3366,names:fKE,counts:fKEc,p:fKEp,strip:'KEGG'}],
  legend:{x:2261,titleY:2637.5,top:2662,bottom:2853,w:39,ticks:[6,5,4,3,2],labelX:2315,countTitleY:2914,cx:2281,sizes:[[20,2958.5,19],[40,2996.7,26.5],[60,3034.5,30]]}});

const chart=echarts.init(document.getElementById('c'),null,{width:2468,height:3436,renderer:'canvas'});
chart.setOption({animation:false,backgroundColor:'#fff',grid,xAxis,yAxis,series,visualMap:[window.__vm],graphic:{elements:gfx}});
</script></body></html>
